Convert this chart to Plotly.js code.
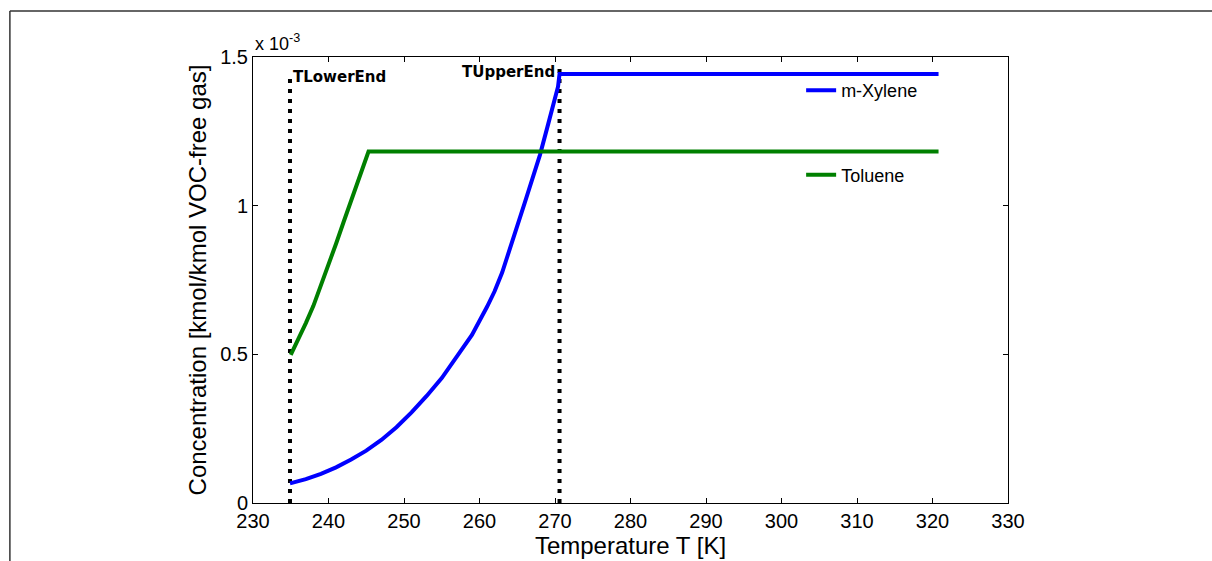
<!DOCTYPE html>
<html>
<head>
<meta charset="utf-8">
<script src="https://cdn.plot.ly/plotly-3.0.1.min.js"></script>
<style>html,body{margin:0;padding:0;background:#fff;}#chart{width:1212px;height:561px;}</style>
</head>
<body>
<div id="chart"></div>
<script>
// Concentrations in units of 1e-3 kmol/kmol VOC-free gas
const xyleneT    = [234.9, 237, 239, 241, 243, 245, 247, 249, 251, 253, 255, 257, 259, 261, 262, 263, 264, 265, 266, 267, 268, 269, 270, 270.4, 270.6, 320.8];
const xyleneConc = [0.066, 0.080, 0.098, 0.120, 0.146, 0.176, 0.212, 0.255, 0.305, 0.360, 0.420, 0.490, 0.565, 0.660, 0.712, 0.775, 0.850, 0.930, 1.010, 1.090, 1.170, 1.265, 1.355, 1.400, 1.443, 1.443];
const tolueneT    = [235.0, 236, 237, 238, 239, 240, 241, 242, 243, 244, 245, 245.3, 320.8];
const tolueneConc = [0.498, 0.550, 0.605, 0.663, 0.730, 0.800, 0.872, 0.945, 1.018, 1.094, 1.168, 1.182, 1.182];
const tLowerEnd = 234.9;
const tUpperEnd = 270.6;
const lowerLineY = [0, 1.44];
const upperLineY = [0, 1.48];
const xTicks = [230, 240, 250, 260, 270, 280, 290, 300, 310, 320, 330];
const yTicks = [0, 0.5, 1, 1.5];
const yTickText = ['0', '0.5', '1', '1.5'];

const traces = [
  {x: [tLowerEnd, tLowerEnd], y: lowerLineY, mode: 'lines', showlegend: false, hoverinfo: 'skip',
   line: {color: '#000', width: 4, dash: '4px,6px'}},
  {x: [tUpperEnd, tUpperEnd], y: upperLineY, mode: 'lines', showlegend: false, hoverinfo: 'skip',
   line: {color: '#000', width: 4, dash: '4px,6px'}},
  {x: xyleneT, y: xyleneConc, mode: 'lines', name: 'm-Xylene', legendgroup: 'a',
   line: {color: '#0000ff', width: 4}},
  {x: tolueneT, y: tolueneConc, mode: 'lines', name: 'Toluene', legendgroup: 'b',
   line: {color: '#008000', width: 4}}
];

const FAM = 'Arial, "Liberation Sans", sans-serif';
const tickFont = {family: FAM, size: 20, color: '#000'};
const titleFont = {family: FAM, size: 24, color: '#000'};
const layout = {
  width: 1212, height: 561,
  margin: {l: 253, r: 204, t: 57, b: 58, pad: 0},
  paper_bgcolor: '#fff', plot_bgcolor: '#fff',
  font: tickFont,
  xaxis: {
    range: [230, 330], tickvals: xTicks, ticks: 'inside', ticklen: 5, tickcolor: '#000',
    showline: true, linecolor: '#000', linewidth: 1, mirror: 'ticks', showgrid: false, zeroline: false,
    tickfont: tickFont,
    title: {text: 'Temperature T [K]', font: titleFont, standoff: 4}
  },
  yaxis: {
    range: [0, 1.5], tickvals: yTicks, ticktext: yTickText, ticks: 'inside', ticklen: 5, tickcolor: '#000',
    showline: true, linecolor: '#000', linewidth: 1, mirror: 'ticks', showgrid: false, zeroline: false,
    tickfont: tickFont,
    title: {text: 'Concentration [kmol/kmol VOC-free gas]', font: titleFont, standoff: 6}
  },
  legend: {
    x: 0.726, y: 0.966, xanchor: 'left', yanchor: 'top',
    bgcolor: 'rgba(0,0,0,0)', borderwidth: 0,
    font: {family: FAM, size: 18, color: '#000'},
    traceorder: 'grouped', tracegroupgap: 58
  },
  annotations: [
    {x: tLowerEnd, y: 1.44, xref: 'x', yref: 'y', text: 'TLowerEnd', showarrow: false,
     xanchor: 'left', yanchor: 'middle', xshift: 1, yshift: -2,
     font: {family: 'DejaVu Sans, sans-serif', size: 15, color: '#000', weight: 'bold'}},
    {x: tUpperEnd, y: 1.44, xref: 'x', yref: 'y', text: 'TUpperEnd', showarrow: false,
     xanchor: 'right', yanchor: 'middle', xshift: -3, yshift: 3,
     font: {family: 'DejaVu Sans, sans-serif', size: 15, color: '#000', weight: 'bold'}},
    {x: 0, y: 1, xref: 'paper', yref: 'paper', text: 'x 10<sup>-3</sup>', showarrow: false,
     xanchor: 'left', yanchor: 'bottom', yshift: 1,
     font: {family: FAM, size: 18, color: '#000'}}
  ],
  shapes: [
    {type: 'line', xref: 'paper', yref: 'paper', x0: -0.322, x1: 1.3, y0: 1.103, y1: 1.103,
     line: {color: '#333', width: 1.5}},
    {type: 'line', xref: 'paper', yref: 'paper', x0: -0.322, x1: -0.322, y0: 1.103, y1: -0.2,
     line: {color: '#333', width: 1.5}}
  ]
};

Plotly.newPlot('chart', traces, layout, {displayModeBar: false, staticPlot: true});
</script>
</body>
</html>
